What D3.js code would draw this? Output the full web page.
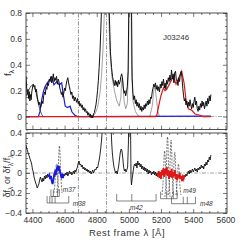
<!DOCTYPE html>
<html lang="en">
<head>
<meta charset="utf-8">
<script src="https://cdnjs.cloudflare.com/ajax/libs/d3/7.8.5/d3.min.js"></script>
<style>
  body { margin: 0; background: #fff; }
  svg text { font-family: 'Liberation Sans', Arial, sans-serif; fill: #333; }
  .tick text { font-size: 8.5px; }
  .tick line { stroke: #222; stroke-width: 0.6; }
</style>
</head>
<body>
<svg width="240" height="240"></svg>
<script>
// ---- data ----
const objName = 'J03246'
const xMajor = [4400, 4600, 4800, 5000, 5200, 5400, 5600]
const topMajor = [0, 0.2, 0.4, 0.6, 0.8]
const botMajor = [-0.4, -0.2, 0, 0.2, 0.4]
const refLines = [4686, 4861]   // He II, H beta

// observed spectrum (top panel)
const obsSpec = [[4360,0.31],[4364,0.22],[4368,0.17],[4372,0.21],[4376,0.14],[4380,0.19],[4384,0.12],[4388,0.17],[4392,0.13],[4396,0.19],
  [4400,0.22],[4405,0.25],[4410,0.23],[4415,0.24],[4420,0.19],[4425,0.21],[4430,0.15],[4435,0.12],[4440,0.09],[4445,0.11],
  [4450,0.07],[4455,0.09],[4460,0.12],[4465,0.10],[4470,0.16],[4475,0.19],[4480,0.17],[4485,0.23],[4490,0.21],[4495,0.26],
  [4500,0.24],[4505,0.29],[4510,0.27],[4515,0.31],[4520,0.26],[4525,0.29],[4530,0.33],[4535,0.27],[4540,0.30],[4545,0.28],
  [4550,0.31],[4555,0.25],[4560,0.29],[4565,0.27],[4570,0.22],[4575,0.20],[4580,0.17],[4585,0.19],[4590,0.15],[4595,0.18],
  [4600,0.22],[4605,0.20],[4610,0.25],[4615,0.28],[4620,0.30],[4625,0.26],[4630,0.23],[4635,0.20],[4640,0.17],[4645,0.19],
  [4650,0.14],[4655,0.16],[4660,0.12],[4665,0.15],[4670,0.13],[4675,0.11],[4680,0.14],[4685,0.10],[4690,0.12],[4695,0.08],
  [4700,0.10],[4705,0.07],[4710,0.09],[4715,0.05],[4720,0.07],[4725,0.04],[4730,0.06],[4735,0.03],[4740,0.04],[4745,0.01],
  [4750,0.03],[4755,0.00],[4760,0.02],[4765,-0.01],[4770,0.01],[4775,-0.01],[4780,0.02],[4785,0.03],[4790,0.06],[4795,0.09],
  [4800,0.14],[4805,0.20],[4810,0.28],[4815,0.38],[4820,0.50],[4825,0.66],[4830,0.85],[4840,1.4],[4850,2.0],[4861,3.0],
  [4870,1.5],[4878,0.8],[4885,0.5],[4892,0.38],[4898,0.31],[4904,0.27],[4910,0.24],[4915,0.28],[4920,0.24],[4925,0.27],
  [4930,0.23],[4935,0.28],[4940,0.25],[4945,0.27],[4950,0.31],[4955,0.33],[4960,0.30],[4965,0.22],[4970,0.18],[4975,0.20],
  [4980,0.16],[4985,0.19],[4990,0.23],[4995,0.35],[5000,0.9],[5004,2.5],[5008,3.0],[5012,2.5],[5016,0.9],[5020,0.30],
  [5025,0.18],[5030,0.13],[5035,0.16],[5040,0.10],[5045,0.13],[5050,0.08],[5055,0.11],[5060,0.07],[5065,0.10],[5070,0.05],
  [5075,0.08],[5080,0.04],[5085,0.07],[5090,0.05],[5095,0.09],[5100,0.06],[5105,0.10],[5110,0.08],[5115,0.12],[5120,0.09],
  [5125,0.13],[5130,0.10],[5135,0.15],[5140,0.14],[5145,0.19],[5150,0.22],[5155,0.25],[5160,0.23],[5165,0.26],[5170,0.21],
  [5175,0.24],[5180,0.20],[5185,0.23],[5190,0.19],[5195,0.25],[5200,0.22],[5205,0.27],[5210,0.24],[5215,0.29],[5220,0.22],
  [5225,0.26],[5230,0.21],[5235,0.28],[5240,0.25],[5245,0.30],[5250,0.27],[5255,0.32],[5260,0.28],[5265,0.36],[5270,0.29],
  [5275,0.33],[5280,0.26],[5285,0.34],[5290,0.35],[5295,0.28],[5300,0.28],[5305,0.24],[5310,0.30],[5315,0.27],[5320,0.33],
  [5325,0.35],[5330,0.30],[5335,0.22],[5340,0.16],[5345,0.12],[5350,0.14],[5355,0.09],[5360,0.12],[5365,0.07],[5370,0.11],
  [5375,0.08],[5380,0.13],[5385,0.09],[5390,0.06],[5395,0.10],[5400,0.07],[5405,0.12],[5410,0.15],[5415,0.09],[5420,0.12],
  [5425,0.06],[5430,0.04],[5435,0.08],[5440,0.05],[5445,0.10],[5450,0.07],[5455,0.12],[5460,0.08],[5465,0.11],[5470,0.06],
  [5475,0.09],[5480,0.12],[5485,0.08],[5490,0.14],[5495,0.10],[5500,0.16],[5505,0.12],[5510,0.17]]

// H gamma side model (dark thin curve, left)
const hgModel = [[4360,0.155],[4375,0.20],[4390,0.235],[4405,0.245],[4420,0.20],[4435,0.11],[4447,0.05],[4458,0.015],[4468,0]]

// narrow + broad line model (gray)
const lineModel = [[4770,0],[4790,0.02],[4805,0.07],[4820,0.18],[4830,0.32],[4840,0.55],[4850,0.9],[4858,2],[4862,3],[4866,2],
  [4872,0.9],[4882,0.5],[4895,0.3],[4910,0.2],[4925,0.12],[4940,0.08],[4950,0.15],[4955,0.28],[4959,0.3],[4963,0.26],
  [4970,0.12],[4980,0.06],[4990,0.1],[4998,0.4],[5003,1.5],[5007,3],[5011,1.5],[5016,0.4],[5025,0.12],[5040,0.04],
  [5055,0.01],[5070,0],[5130,0],[5145,0.08],[5155,0.2],[5162,0.24],[5170,0.15],[5180,0.04],[5190,0]]

// Fe II templates
const feBlue = [[4360,0],[4437,0],[4447,0.04],[4458,0.13],[4468,0.19],[4478,0.23],[4492,0.26],[4505,0.28],[4520,0.305],[4534,0.245],
  [4551,0.27],[4567,0.245],[4582,0.26],[4592,0.17],[4604,0.08],[4618,0.07],[4634,0.08],[4646,0.035],[4664,0.01],[4680,0],[5510,0.003]]
const feRed = [[4360,0],[5165,0],[5173,0.005],[5185,0.08],[5198,0.155],[5214,0.22],[5225,0.20],[5235,0.21],[5256,0.26],[5276,0.31],
  [5293,0.25],[5314,0.31],[5328,0.35],[5343,0.26],[5355,0.13],[5370,0.06],[5390,0.05],[5411,0.02],[5442,0.01],[5460,0],[5510,0]]

// residuals (bottom panel)
const resid = [[4360,0.28],[4365,0.24],[4370,0.22],[4375,0.19],[4380,0.17],[4385,0.14],[4390,0.12],[4395,0.09],[4400,0.04],[4405,0.01],
  [4410,-0.04],[4415,-0.07],[4420,-0.10],[4425,-0.12],[4430,-0.15],[4435,-0.13],[4440,-0.11],[4445,-0.07],[4450,-0.04],[4455,-0.07],
  [4460,-0.09],[4465,-0.05],[4470,-0.08],[4475,-0.03],[4480,-0.06],[4485,-0.02],[4490,-0.05],[4495,-0.01],[4500,-0.04],[4505,-0.02],
  [4510,-0.06],[4515,-0.03],[4520,-0.08],[4525,-0.11],[4530,-0.07],[4535,-0.02],[4540,0.01],[4545,-0.02],[4550,0.03],[4555,0.06],
  [4560,0.04],[4565,0.07],[4570,0.02],[4575,-0.01],[4580,-0.04],[4585,-0.02],[4590,-0.05],[4595,-0.01],[4600,-0.03],[4605,0.00],
  [4610,-0.02],[4615,0.01],[4620,-0.03],[4625,-0.01],[4630,0.02],[4635,-0.01],[4640,0.01],[4645,-0.02],[4650,0.00],[4655,0.02],
  [4660,-0.01],[4665,0.03],[4670,0.01],[4675,0.04],[4680,0.06],[4685,0.10],[4690,0.12],[4695,0.08],[4700,0.09],[4705,0.06],
  [4710,0.08],[4715,0.04],[4720,0.06],[4725,0.03],[4730,0.05],[4735,0.02],[4740,0.04],[4745,0.01],[4750,0.03],[4755,0.00],
  [4760,0.02],[4765,-0.01],[4770,0.01],[4775,0.03],[4780,0.00],[4785,0.02],[4790,0.04],[4795,0.03],[4800,0.06],[4805,0.05],
  [4810,0.09],[4815,0.13],[4820,0.18],[4825,0.25],[4830,0.33],[4835,0.45],[4840,0.6],[4845,0.8],[4850,1.2],[4860,1.5],
  [4870,1.2],[4880,0.8],[4888,0.5],[4893,0.3],[4897,0.2],[4902,0.12],[4907,0.06],[4912,0.03],[4917,0.0],[4922,0.02],
  [4927,-0.01],[4932,0.03],[4937,0.08],[4942,0.15],[4947,0.21],[4952,0.24],[4957,0.22],[4962,0.15],[4967,0.06],[4972,0.02],
  [4977,0.04],[4982,0.01],[4987,0.03],[4992,0.06],[4997,0.3],[5000,0.8],[5005,1.2],[5010,0.5],[5013,-0.05],[5016,-0.12],
  [5020,-0.06],[5025,0.0],[5030,0.06],[5035,0.09],[5040,0.07],[5045,0.10],[5050,0.05],[5055,0.12],[5060,0.08],[5065,0.10],
  [5070,0.06],[5075,0.09],[5080,0.04],[5085,0.07],[5090,0.03],[5095,0.06],[5100,0.02],[5105,0.05],[5110,0.01],[5115,0.04],
  [5120,-0.01],[5125,0.03],[5130,0.00],[5135,0.02],[5140,-0.02],[5145,0.01],[5150,-0.01],[5155,0.02],[5160,-0.02],[5165,0.01],
  [5170,-0.03],[5175,0.00],[5180,-0.04],[5185,0.02],[5190,-0.05],[5195,0.01],[5200,-0.06],[5205,0.03],[5210,-0.02],[5215,0.05],
  [5220,-0.04],[5225,0.04],[5230,-0.01],[5235,0.06],[5240,-0.03],[5245,0.03],[5250,-0.06],[5255,0.02],[5260,-0.04],[5265,0.04],
  [5270,-0.05],[5275,0.01],[5280,-0.03],[5285,0.03],[5290,-0.06],[5295,-0.01],[5300,-0.07],[5305,-0.02],[5310,-0.05],[5315,0.00],
  [5320,-0.06],[5325,-0.03],[5330,-0.08],[5335,-0.04],[5340,-0.06],[5345,-0.02],[5350,-0.04],[5355,-0.01],[5360,-0.03],[5365,0.00],
  [5370,0.02],[5375,-0.01],[5380,0.03],[5385,0.00],[5390,0.02],[5395,0.04],[5400,0.01],[5405,0.03],[5410,0.05],[5415,0.02],
  [5420,0.04],[5425,0.01],[5430,0.05],[5435,0.03],[5440,0.06],[5445,0.04],[5450,0.08],[5455,0.05],[5460,0.07],[5465,0.04],
  [5470,0.09],[5475,0.07],[5480,0.11],[5485,0.08],[5490,0.13],[5495,0.11],[5500,0.16],[5505,0.13],[5510,0.18]]
const blueRange = [4500, 4595]
const redRange = [5178, 5348]

// individual Fe II line profiles (dashed, bottom panel)
const feLineProfiles = [
  [[4534,-0.2],[4540,-0.1],[4544,0.0],[4547,0.07],[4550,0.09],[4553,0.07],[4556,0.0],[4560,-0.1],[4566,-0.2]],
  [[4552,-0.2],[4558,-0.06],[4562,0.1],[4565,0.22],[4568,0.27],[4571,0.22],[4574,0.1],[4578,-0.06],[4584,-0.2]],
  [[5206,-0.22],[5212,-0.1],[5216,0.05],[5219,0.17],[5222,0.22],[5225,0.17],[5228,0.05],[5232,-0.1],[5238,-0.22]],
  [[5224,-0.24],[5230,-0.1],[5234,0.1],[5237,0.3],[5240,0.36],[5243,0.3],[5246,0.1],[5250,-0.1],[5256,-0.24]],
  [[5246,-0.22],[5252,-0.1],[5256,0.1],[5259,0.27],[5262,0.33],[5265,0.27],[5268,0.1],[5272,-0.1],[5278,-0.22]],
  [[5269,-0.24],[5275,-0.12],[5279,0.04],[5282,0.16],[5285,0.21],[5288,0.16],[5291,0.04],[5295,-0.12],[5301,-0.24]],
  [[5292,-0.22],[5298,-0.14],[5302,-0.02],[5305,0.06],[5308,0.09],[5311,0.06],[5314,-0.02],[5318,-0.14],[5324,-0.22]]
]

// multiplet markers
const multNames = ['m37', 'm38', 'm42', 'm49', 'm48']
const multLevels = [-0.235, -0.30, -0.28, -0.257, -0.307]
const multLines = [
  [4515, 4530, 4556, 4567],
  [4491, 4508, 4522, 4541, 4626],
  [4924, 5018, 5169],
  [5197, 5235, 5276, 5300],
  [5265, 5338, 5363, 5414]
]

// ---- drawing ----
const svg = d3.select('svg')
const left = 26, right = 227
const x = d3.scaleLinear().domain([4360, 5610]).range([left, right])
const yTop = d3.scaleLinear().domain([-0.1, 0.8]).range([129.5, 13])
const yBot = d3.scaleLinear().domain([-0.4, 0.4]).range([213, 133])

const dashDot = '4,1.5,1,1.5'

function panel(id, y) {
  const y0 = y.range()[0], y1 = y.range()[1]
  svg.append('clipPath').attr('id', id)
    .append('rect').attr('x', left).attr('y', y1).attr('width', right - left).attr('height', y0 - y1)
  const g = svg.append('g')
  const clip = g.append('g').attr('clip-path', 'url(#' + id + ')')
  // reference lines
  clip.selectAll('line.ref').data(refLines).enter().append('line')
    .attr('x1', d => x(d)).attr('x2', d => x(d)).attr('y1', y0).attr('y2', y1)
    .attr('stroke', '#666').attr('stroke-width', 0.7).attr('stroke-dasharray', dashDot)
  clip.append('line')
    .attr('x1', left).attr('x2', right).attr('y1', y(0)).attr('y2', y(0))
    .attr('stroke', '#777').attr('stroke-width', 0.7).attr('stroke-dasharray', dashDot)
  return { g, clip, y0, y1 }
}

function axes(p, y, major, minorStep, lo, hi, showX) {
  const xMinor = d3.range(4400, 5601, 50).filter(v => v % 200 !== 0)
  const yMinor = d3.range(Math.round(lo / minorStep), Math.round(hi / minorStep) + 1)
    .map(v => v * minorStep).filter(v => !major.some(m => Math.abs(m - v) < 1e-6))
  const defs = [
    [d3.axisBottom(x).tickValues(xMajor).tickSize(-4).tickPadding(3.5).tickFormat(showX ? d3.format('') : () => ''), 'translate(0,' + p.y0 + ')'],
    [d3.axisBottom(x).tickValues(xMinor).tickSize(-2).tickFormat(() => ''), 'translate(0,' + p.y0 + ')'],
    [d3.axisTop(x).tickValues(xMajor).tickSize(-4).tickFormat(() => ''), 'translate(0,' + p.y1 + ')'],
    [d3.axisTop(x).tickValues(xMinor).tickSize(-2).tickFormat(() => ''), 'translate(0,' + p.y1 + ')'],
    [d3.axisLeft(y).tickValues(major).tickSize(-4).tickPadding(4).tickFormat(d3.format('')), 'translate(' + left + ',0)'],
    [d3.axisLeft(y).tickValues(yMinor).tickSize(-2).tickFormat(() => ''), 'translate(' + left + ',0)'],
    [d3.axisRight(y).tickValues(major).tickSize(-4).tickFormat(() => ''), 'translate(' + right + ',0)'],
    [d3.axisRight(y).tickValues(yMinor).tickSize(-2).tickFormat(() => ''), 'translate(' + right + ',0)']
  ]
  defs.forEach(([ax, tr]) => {
    const a = p.g.append('g').attr('transform', tr).call(ax)
    a.select('.domain').remove()
  })
  p.g.append('rect').attr('x', left).attr('y', p.y1).attr('width', right - left).attr('height', p.y0 - p.y1)
    .attr('fill', 'none').attr('stroke', '#222').attr('stroke-width', 0.8)
}

// top panel
const pt = panel('clipTop', yTop)
const lt = d3.line().x(d => x(d[0])).y(d => yTop(d[1]))
pt.clip.append('path').datum(lineModel).attr('d', lt).attr('fill', 'none').attr('stroke', '#8a8a8a').attr('stroke-width', 0.8)
pt.clip.append('path').datum(feBlue).attr('d', lt).attr('fill', 'none').attr('stroke', '#1a1ae0').attr('stroke-width', 1.2)
pt.clip.append('path').datum(feRed).attr('d', lt).attr('fill', 'none').attr('stroke', '#e01818').attr('stroke-width', 1.2)
pt.clip.append('path').datum(hgModel).attr('d', lt).attr('fill', 'none').attr('stroke', '#333').attr('stroke-width', 0.8)
pt.clip.append('path').datum(obsSpec).attr('d', lt).attr('fill', 'none').attr('stroke', '#111').attr('stroke-width', 1)
axes(pt, yTop, topMajor, 0.05, -0.1, 0.8, false)
svg.append('text').attr('x', 176).attr('y', 39.5).attr('text-anchor', 'middle')
  .attr('font-size', 8).text(objName)

// bottom panel
const pb = panel('clipBot', yBot)
const lb = d3.line().x(d => x(d[0])).y(d => yBot(d[1]))
pb.clip.selectAll('path.prof').data(feLineProfiles).enter().append('path')
  .attr('d', d3.line().x(d => x(d[0])).y(d => yBot(d[1])).curve(d3.curveCardinal))
  .attr('fill', 'none').attr('stroke', '#222').attr('stroke-width', 0.6).attr('stroke-dasharray', '2,1.2')
pb.clip.append('path').datum(resid).attr('d', lb).attr('fill', 'none').attr('stroke', '#111').attr('stroke-width', 0.9)
pb.clip.append('path').datum(resid.filter(d => d[0] >= blueRange[0] && d[0] <= blueRange[1]))
  .attr('d', lb).attr('fill', 'none').attr('stroke', '#1a1ae0').attr('stroke-width', 1.8)
pb.clip.append('path').datum(resid.filter(d => d[0] >= redRange[0] && d[0] <= redRange[1]))
  .attr('d', lb).attr('fill', 'none').attr('stroke', '#e01818').attr('stroke-width', 1.8)

// multiplet brackets
const labelStyle = { m37: [3.5, -4.5, 'start'], m38: [4, 2.5, 'start'], m42: [0, 9, 'middle'], m49: [6, -5.5, 'start'], m48: [4.5, 2, 'start'] }
multNames.forEach((name, i) => {
  const lv = multLevels[i], ls = multLines[i]
  const g = pb.g.append('g').attr('stroke', '#333').attr('stroke-width', 0.6)
  g.append('line').attr('x1', x(d3.min(ls))).attr('x2', x(d3.max(ls)))
    .attr('y1', yBot(lv)).attr('y2', yBot(lv))
  g.selectAll('line.t').data(ls).enter().append('line')
    .attr('x1', d => x(d)).attr('x2', d => x(d))
    .attr('y1', yBot(lv)).attr('y2', yBot(lv + 0.07))
  const st = labelStyle[name]
  const lx = st[2] === 'middle' ? x((d3.min(ls) + d3.max(ls)) / 2) : x(d3.max(ls)) + st[0]
  pb.g.append('text').attr('x', lx).attr('y', yBot(lv) + st[1]).attr('text-anchor', st[2])
    .attr('font-size', 6.5).attr('font-style', 'italic').text(name)
})
axes(pb, yBot, botMajor, 0.05, -0.4, 0.4, true)

// axis titles
svg.append('text').attr('transform', 'translate(11,73) rotate(-90)').attr('text-anchor', 'middle')
  .attr('font-size', 9.5)
  .call(t => { t.append('tspan').text('f'); t.append('tspan').attr('font-size', 7).attr('dy', 2.5).text('λ') })
svg.append('text').attr('transform', 'translate(10,176) rotate(-90)').attr('text-anchor', 'middle')
  .attr('font-size', 9)
  .call(t => {
    t.append('tspan').text('δf')
    t.append('tspan').attr('font-size', 6.5).attr('dy', 2.5).text('λ')
    t.append('tspan').attr('dy', -2.5).text(' or δf')
    t.append('tspan').attr('font-size', 6.5).attr('dy', 2.5).text('λ')
    t.append('tspan').attr('dy', -2.5).text('/f')
    t.append('tspan').attr('font-size', 6.5).attr('dy', 2.5).text('λ')
  })
svg.append('text').attr('x', 127).attr('y', 236).attr('text-anchor', 'middle')
  .attr('font-size', 9.5).attr('letter-spacing', 0.5).text('Rest frame λ [Å]')
</script>
</body>
</html>
